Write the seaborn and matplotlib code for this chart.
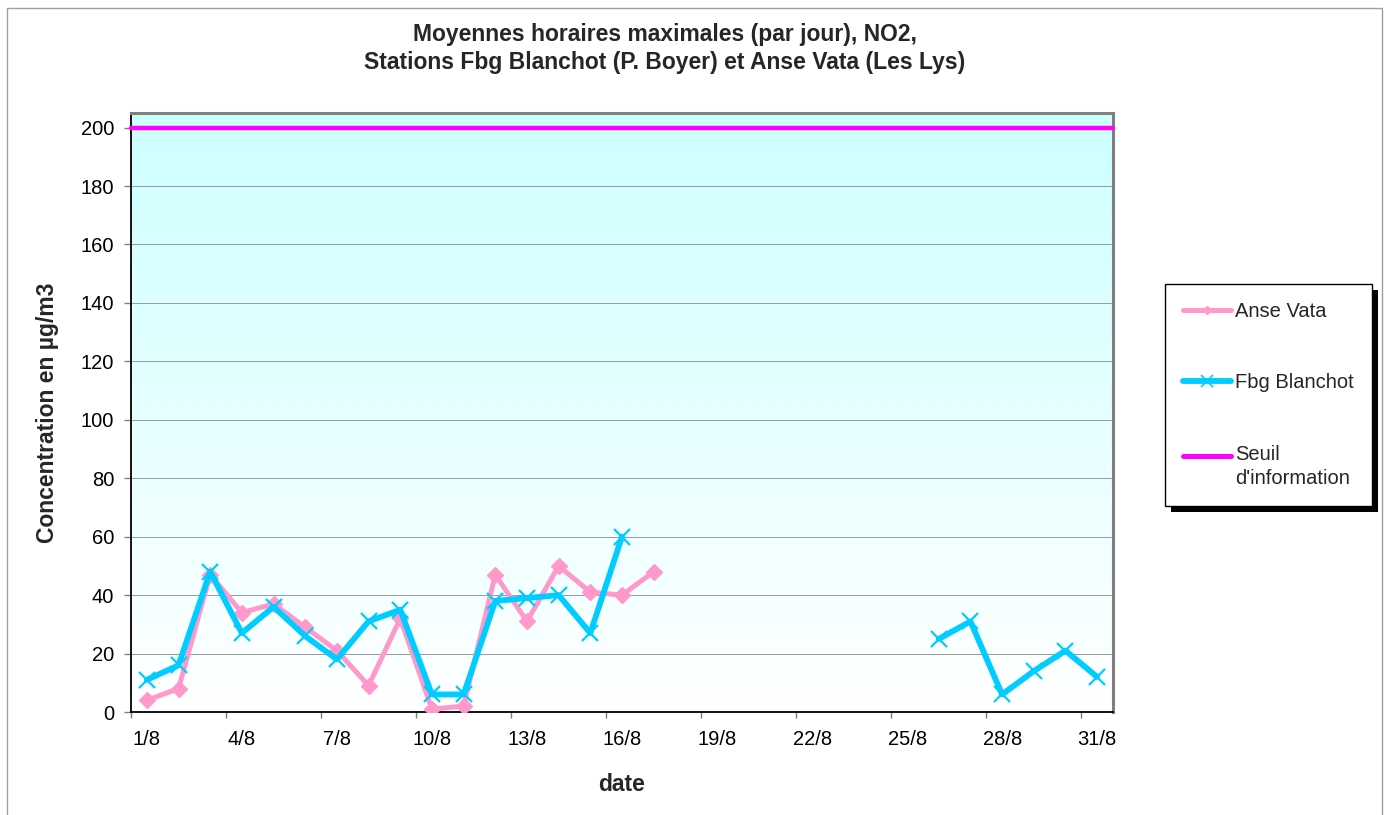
import numpy as np
import pandas as pd
import matplotlib
matplotlib.use("Agg")
import matplotlib.pyplot as plt
import seaborn as sns
from matplotlib.lines import Line2D
from matplotlib.patches import Rectangle
from matplotlib.colors import LinearSegmentedColormap
from matplotlib.transforms import IdentityTransform
from matplotlib.legend_handler import HandlerLine2D

# ---------------- data ----------------
days = [f"{d}/8" for d in range(1, 32)]
anse_vata = [4, 8, 47, 34, 37, 29, 21, 9, 32, 1, 2, 47, 31, 50, 41, 40, 48] + [np.nan] * 14
fbg_blanchot = ([11, 16, 48, 27, 36, 26, 18, 31, 35, 6, 6, 38, 39, 40, 27, 60]
                + [np.nan] * 9 + [25, 31, 6, 14, 21, 12])
seuil = 200
y_ticks = list(range(0, 201, 20))
label_every = 3

title_lines = ["Moyennes horaires maximales (par jour), NO2,",
               "Stations Fbg Blanchot (P. Boyer) et Anse Vata (Les Lys)"]
series_names = ["Anse Vata", "Fbg Blanchot", "Seuil\nd'information"]

# ---------------- style ----------------
sns.set_theme(style="white")
plt.rcParams["font.family"] = ["Liberation Sans", "DejaVu Sans"]
FS = 14.5
FSB = 16.5

c_anse = "#FF99CC"
c_fbg = "#00CCFF"
c_seuil = "#FF00FF"


def to_long(values, name):
    df = pd.DataFrame({"pos": np.arange(len(values)) + 0.5, "value": values})
    df["series"] = name
    df["segment"] = df["value"].isna().cumsum()
    return df.dropna()


class UpHandler(HandlerLine2D):
    """Line handle aligned with the first line of a two-line label."""
    def __init__(self, dy=8, **kw):
        super().__init__(**kw)
        self.dy = dy

    def create_artists(self, legend, orig_handle, xdescent, ydescent, width, height, fontsize, trans):
        arts = super().create_artists(legend, orig_handle, xdescent, ydescent, width, height, fontsize, trans)
        for a in arts:
            a.set_ydata(np.asarray(a.get_ydata(), dtype=float) + self.dy)
        return arts


W, H = 1396, 815
fig = plt.figure(figsize=(W / 100, H / 100), dpi=100)
fig.patch.set_facecolor("white")
ax = fig.add_axes([131 / W, 1 - 712 / H, (1113 - 131) / W, (712 - 113) / H])

ymax = 205
n = len(days)
# gradient background
cmap = LinearSegmentedColormap.from_list("bg", ["#CCFFFF", "#FFFFFF"])
ax.imshow(np.linspace(0, 1, 256).reshape(-1, 1), extent=[0, n, 0, ymax],
          aspect="auto", cmap=cmap, origin="upper", zorder=0)

# series
df_a = to_long(anse_vata, "Anse Vata")
sns.lineplot(data=df_a, x="pos", y="value", units="segment", estimator=None,
             sort=False, ax=ax, color=c_anse, lw=3.6, marker="D", markersize=8,
             markeredgecolor=c_anse, markeredgewidth=1, legend=False, zorder=3)
df_f = to_long(fbg_blanchot, "Fbg Blanchot")
sns.lineplot(data=df_f, x="pos", y="value", units="segment", estimator=None,
             sort=False, ax=ax, color=c_fbg, lw=4.2, marker="x", markersize=12,
             markeredgecolor=c_fbg, markeredgewidth=1.6, legend=False, zorder=4)
ax.axhline(seuil, color=c_seuil, lw=3.2, zorder=5, clip_on=False)

# axes
ax.set_xlim(0, n)
ax.set_ylim(0, ymax)
ax.set_yticks(y_ticks)
ax.set_yticklabels([str(v) for v in y_ticks], fontsize=FS, color="black")
ax.yaxis.grid(True, color="#999999", lw=0.7)
ax.xaxis.grid(False)
ax.set_axisbelow(True)

bounds = np.arange(0, n + 1, label_every)
ax.set_xticks(bounds)
ax.set_xticklabels([""] * len(bounds))
centers = np.arange(0, n, label_every) + 0.5
ax.set_xticks(centers, minor=True)
ax.set_xticklabels(days[::label_every], minor=True, fontsize=FS, color="black")
ax.tick_params(axis="x", which="major", length=4, width=1, color="#808080", direction="out", bottom=True)
ax.tick_params(axis="x", which="minor", length=0, pad=13, bottom=True)
ax.tick_params(axis="y", which="major", length=5, width=1, color="#808080", direction="out", left=True, pad=7)

for s in ["left", "bottom"]:
    ax.spines[s].set_color("black")
    ax.spines[s].set_linewidth(1.3)
for s in ["top", "right"]:
    ax.spines[s].set_color("#808080")
    ax.spines[s].set_linewidth(2.2)

ax.set_xlabel("date", fontsize=FSB, fontweight="bold", labelpad=17)
ax.set_ylabel("Concentration en µg/m3", fontsize=FSB, fontweight="bold", labelpad=16)

for txt, yc in zip(title_lines, [34, 63]):
    fig.text(665 / W, 1 - yc / H, txt, ha="center", va="center",
             fontsize=FSB, fontweight="bold")

# legend
handles = [
    Line2D([], [], color=c_anse, lw=3.6, marker="D", markersize=4, markeredgecolor=c_anse),
    Line2D([], [], color=c_fbg, lw=4.2, marker="x", markersize=8, markeredgecolor=c_fbg, markeredgewidth=1.2),
    Line2D([], [], color=c_seuil, lw=3.6),
]
leg = fig.legend(handles, series_names, loc="upper left",
                 bbox_to_anchor=(1165 / W, 1 - 284 / H), frameon=True, fancybox=False,
                 edgecolor="black", facecolor="white", framealpha=1, fontsize=FS,
                 borderpad=0.9, labelspacing=2.6, handlelength=2.4, handletextpad=0.2,
                 borderaxespad=0, handler_map={handles[2]: UpHandler(dy=8)})
leg.get_frame().set_linewidth(1)
for t in leg.get_texts():
    t.set_linespacing(1.35)
leg.set_zorder(10)

fig.canvas.draw()
bb = leg.get_window_extent()
shadow = Rectangle((bb.x0 + 6, bb.y0 - 6), bb.width, bb.height, transform=IdentityTransform(),
                   facecolor="black", edgecolor="none", zorder=9)
fig.add_artist(shadow)

# outer chart border
fig.add_artist(Rectangle((7 / W, -0.02), (1382 - 7) / W, 1.02 - 8 / H, transform=fig.transFigure,
                         fill=False, edgecolor="#A0A0A0", lw=1, zorder=0))

fig.savefig("out.png", dpi=100)
